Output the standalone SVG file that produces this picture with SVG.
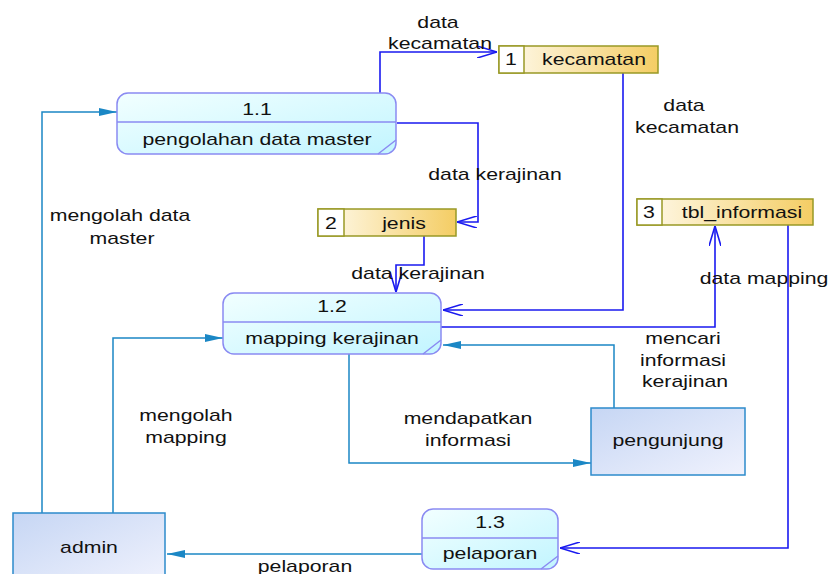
<svg xmlns="http://www.w3.org/2000/svg" width="832" height="574" viewBox="0 0 832 574">
<defs>
<linearGradient id="gProc" x1="0" y1="0" x2="1" y2="1"><stop offset="0" stop-color="#F2FFFF"/><stop offset="1" stop-color="#C2F5FF"/></linearGradient>
<linearGradient id="gStore" x1="0" y1="0" x2="1" y2="0"><stop offset="0" stop-color="#FFFBEF"/><stop offset="1" stop-color="#F4CD64"/></linearGradient>
<linearGradient id="gExt" x1="0" y1="0" x2="1" y2="1"><stop offset="0" stop-color="#C6D6F4"/><stop offset="1" stop-color="#F0F2FD"/></linearGradient>
<marker id="mOpen" markerUnits="userSpaceOnUse" viewBox="0 0 20 12" markerWidth="20" markerHeight="12" refX="20" refY="6" orient="auto"><path d="M0,0 L20,6 L0,12" fill="none" stroke="#1A1AF0" stroke-width="1.6"/></marker>
<marker id="mFill" markerUnits="userSpaceOnUse" viewBox="0 0 18 8" markerWidth="18" markerHeight="8" refX="18" refY="4" orient="auto"><path d="M0,0 L18,4 L0,8 z" fill="#1B87C5"/></marker>
</defs>
<style>
.t{font-family:"Liberation Sans",Arial,sans-serif;font-size:17px;fill:#111;text-anchor:middle}
.proc{fill:url(#gProc);stroke:#8A8AF2;stroke-width:1.5}
.pl{stroke:#8A8AF2;stroke-width:1.5;fill:none}
.store{fill:url(#gStore);stroke:#999926;stroke-width:1.5}
.num{fill:#FFFFFF;stroke:#999926;stroke-width:1.5}
.ext{fill:url(#gExt);stroke:#2D8BCB;stroke-width:1.5}
.cb{fill:none;stroke:#1A1AF0;stroke-width:1.6;marker-end:url(#mOpen)}
.ct{fill:none;stroke:#1B87C5;stroke-width:1.5;marker-end:url(#mFill)}
</style>
<rect width="832" height="574" fill="#FFFFFF"/>

<g id="connectors">
<path class="cb" d="M380,93 V52 H497"/>
<path class="cb" d="M397,123 H478 V222 H457"/>
<path class="cb" d="M424,236 V265 H396 V292"/>
<path class="cb" d="M623,73 V310 H443"/>
<path class="cb" d="M441,327 H715 V226"/>
<path class="cb" d="M788,224 V548 H560"/>
<path class="ct" d="M422,554 H167"/>
<path class="ct" d="M42,513 V112 H117"/>
<path class="ct" d="M113,513 V338 H223"/>
<path class="ct" d="M614,408 V345 H443"/>
<path class="ct" d="M349,354 V463 H591"/>
<text class="t" transform="translate(438,28) scale(1.25,1)">data</text>
<text class="t" transform="translate(440,49) scale(1.25,1)">kecamatan</text>
<text class="t" transform="translate(684,111) scale(1.25,1)">data</text>
<text class="t" transform="translate(687,133) scale(1.25,1)">kecamatan</text>
<text class="t" transform="translate(495,180) scale(1.25,1)">data kerajinan</text>
<text class="t" transform="translate(120,221) scale(1.25,1)">mengolah data</text>
<text class="t" transform="translate(122,244) scale(1.25,1)">master</text>
<text class="t" transform="translate(418,279) scale(1.25,1)">data kerajinan</text>
<text class="t" transform="translate(764,284) scale(1.25,1)">data mapping</text>
<text class="t" transform="translate(683,344) scale(1.25,1)">mencari</text>
<text class="t" transform="translate(683,366) scale(1.25,1)">informasi</text>
<text class="t" transform="translate(685,387) scale(1.25,1)">kerajinan</text>
<text class="t" transform="translate(186,421) scale(1.25,1)">mengolah</text>
<text class="t" transform="translate(186,443) scale(1.25,1)">mapping</text>
<text class="t" transform="translate(468,424) scale(1.25,1)">mendapatkan</text>
<text class="t" transform="translate(468,446) scale(1.25,1)">informasi</text>
<text class="t" transform="translate(305,572) scale(1.25,1)">pelaporan</text>
</g>

<g id="p1_1">
<rect class="proc" x="117" y="93" width="279" height="61" rx="11"/>
<path class="pl" d="M117,122 H396 M378,154 L396,140"/>
<text class="t" transform="translate(257,115) scale(1.25,1)">1.1</text>
<text class="t" transform="translate(257,145) scale(1.25,1)">pengolahan data master</text>
</g>

<g id="ds1">
<rect class="store" x="499" y="46" width="159" height="27"/>
<rect class="num" x="499" y="46" width="25" height="27"/>
<text class="t" transform="translate(511,65) scale(1.25,1)">1</text>
<text class="t" transform="translate(594,65) scale(1.25,1)">kecamatan</text>
</g>

<g id="ds2">
<rect class="store" x="318" y="209" width="138" height="27"/>
<rect class="num" x="318" y="209" width="26" height="27"/>
<text class="t" transform="translate(331,229) scale(1.25,1)">2</text>
<text class="t" transform="translate(404,229) scale(1.25,1)">jenis</text>
</g>

<g id="ds3">
<rect class="store" x="637" y="199" width="176" height="26"/>
<rect class="num" x="637" y="199" width="25" height="26"/>
<text class="t" transform="translate(649,218) scale(1.25,1)">3</text>
<text class="t" transform="translate(742,218) scale(1.25,1)">tbl_informasi</text>
</g>

<g id="p1_2">
<rect class="proc" x="223" y="293" width="218" height="61" rx="11"/>
<path class="pl" d="M223,322 H441 M423,354 L441,340"/>
<text class="t" transform="translate(332,312) scale(1.25,1)">1.2</text>
<text class="t" transform="translate(332,344) scale(1.25,1)">mapping kerajinan</text>
</g>

<g id="pengunjung">
<rect class="ext" x="591" y="408" width="154" height="67"/>
<text class="t" transform="translate(668,446) scale(1.25,1)">pengunjung</text>
</g>

<g id="admin">
<rect class="ext" x="13" y="513" width="152" height="70"/>
<text class="t" transform="translate(89,553) scale(1.25,1)">admin</text>
</g>

<g id="p1_3">
<rect class="proc" x="422" y="509" width="136" height="60" rx="11"/>
<path class="pl" d="M422,538 H558 M541,569 L558,556"/>
<text class="t" transform="translate(490,528) scale(1.25,1)">1.3</text>
<text class="t" transform="translate(490,559) scale(1.25,1)">pelaporan</text>
</g>
</svg>
